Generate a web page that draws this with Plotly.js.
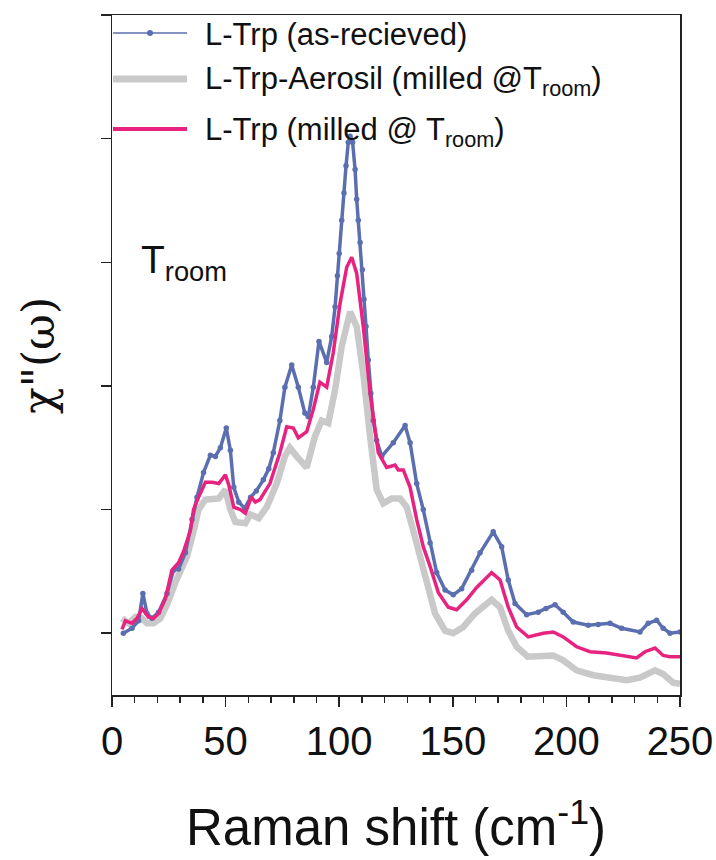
<!DOCTYPE html>
<html>
<head>
<meta charset="utf-8">
<script src="https://cdn.plot.ly/plotly-3.0.1.min.js"></script>
<style>html,body{margin:0;padding:0;background:#fff;}#chart{width:716px;height:860px;}</style>
</head>
<body>
<div id="chart"></div>
<script>
// L-Trp (as-recieved)
const asX = [5.0,8.8,11.7,13.6,15.4,17.6,20.5,24.2,27.1,29.3,32.3,35.2,37.4,40.3,43.3,45.5,47.7,50.3,52.1,53.6,55.8,58.4,61.0,63.5,66.6,69.0,71.0,73.9,76.1,79.1,82.0,84.9,86.4,88.6,91.1,94.5,96.7,98.2,99.2,100.0,101.1,102.1,103.0,104.0,104.8,105.9,107.0,107.7,108.4,109.2,110.2,110.9,111.8,112.8,113.9,115.0,116.5,118.7,123.8,129.0,131.2,134.1,137.0,140.0,142.9,146.6,150.2,153.9,158.3,162.0,167.8,171.5,174.4,177.4,182.5,187.6,191.0,195.0,198.6,203.0,209.6,214.0,219.2,224.3,232.4,236.0,239.7,242.6,245.6,250.0];
const asY = [0.00,0.04,0.10,0.32,0.16,0.12,0.17,0.32,0.51,0.52,0.65,0.92,1.10,1.30,1.44,1.43,1.50,1.66,1.48,1.18,1.06,1.01,1.10,1.15,1.24,1.33,1.46,1.72,1.99,2.17,1.99,1.78,1.75,1.99,2.36,2.19,2.40,2.64,2.89,3.07,3.34,3.56,3.78,3.97,4.02,3.97,3.75,3.51,3.34,3.16,2.94,2.70,2.48,2.21,1.94,1.72,1.56,1.43,1.54,1.68,1.54,1.21,1.00,0.73,0.49,0.35,0.31,0.36,0.51,0.65,0.82,0.70,0.43,0.24,0.15,0.17,0.20,0.23,0.17,0.09,0.065,0.07,0.08,0.04,0.01,0.08,0.105,0.04,0.00,0.01];

// L-Trp-Aerosil (milled @Troom)
const aeX = [4.4,7.3,10.3,13.2,15.4,18.3,21.3,24.2,27.9,30.1,33.0,36.0,38.1,41.1,44.0,47.0,49.9,52.1,54.3,58.7,60.9,64.6,68.1,72.5,76.1,78.3,81.3,85.7,89.3,92.3,95.2,98.2,101.1,104.8,107.7,110.6,113.6,116.5,119.4,123.1,126.8,129.7,132.6,135.6,138.5,142.2,146.6,150.2,154.6,159.8,167.1,170.8,174.4,178.1,183.0,189.8,194.2,198.6,204.5,211.8,219.2,226.5,232.4,239.0,242.6,247.0,250.0];
const aeY = [0.12,0.08,0.13,0.12,0.08,0.08,0.12,0.23,0.41,0.49,0.62,0.83,1.00,1.08,1.09,1.09,1.16,1.00,0.90,0.89,0.96,0.93,1.02,1.21,1.43,1.50,1.43,1.34,1.59,1.72,1.70,1.97,2.32,2.60,2.48,2.10,1.59,1.16,1.05,1.09,1.09,1.02,0.83,0.62,0.37,0.16,0.02,0.00,0.05,0.16,0.27,0.21,0.02,-0.11,-0.19,-0.19,-0.18,-0.22,-0.30,-0.34,-0.36,-0.38,-0.36,-0.30,-0.33,-0.40,-0.41];

// L-Trp (milled @ Troom)
const miX = [4.4,5.9,8.8,11.0,13.2,16.1,18.3,20.5,23.5,26.4,29.3,31.5,34.5,35.9,38.1,41.1,44.0,47.0,49.9,51.4,53.6,56.5,58.7,61.3,63.1,65.1,69.5,73.9,76.9,79.8,82.0,85.7,88.6,91.5,94.5,97.4,100.4,103.3,105.5,107.7,110.6,113.6,117.2,120.9,124.6,126.0,128.2,131.2,134.1,137.0,140.0,143.6,148.0,151.7,156.1,160.5,167.1,170.8,174.4,178.1,183.2,189.8,194.2,198.6,204.5,210.4,217.7,225.0,230.9,234.6,239.0,242.6,245.6,250.0];
const miY = [0.03,0.10,0.08,0.12,0.20,0.13,0.12,0.16,0.28,0.51,0.57,0.66,0.83,1.00,1.10,1.22,1.22,1.21,1.28,1.20,1.02,1.00,0.97,1.10,1.06,1.08,1.21,1.46,1.67,1.66,1.58,1.63,1.81,2.03,1.99,2.27,2.67,2.96,3.04,2.91,2.48,1.94,1.46,1.34,1.36,1.32,1.32,1.18,0.92,0.70,0.54,0.33,0.21,0.19,0.27,0.37,0.49,0.43,0.21,0.05,-0.03,0.00,0.01,-0.03,-0.11,-0.15,-0.16,-0.18,-0.20,-0.15,-0.12,-0.18,-0.19,-0.19];

const xTicks = [0,50,100,150,200,250];
const names = ['L-Trp (as-recieved)', 'L-Trp-Aerosil (milled @T<sub>room</sub>)', 'L-Trp (milled @ T<sub>room</sub>)'];

const BLUE = '#5b6fb0', GRAY = '#c9c9c9', PINK = '#e8237f';
const FONT = 'Liberation Sans, Arial, sans-serif';

const traces = [
  {x: aeX, y: aeY, mode: 'lines', line: {color: GRAY, width: 6.5}, name: names[1]},
  {x: asX, y: asY, mode: 'lines+markers', line: {color: BLUE, width: 3.5}, marker: {color: BLUE, size: 5.5}, name: names[0]},
  {x: miX, y: miY, mode: 'lines', line: {color: PINK, width: 3.5}, name: names[2]}
];

// legend drawn manually (paper coords)
const px = v => (v - 112) / 568;
const py = v => (695 - v) / 680;
const legY = [33, 79, 129];
const shapes = [
  {type: 'line', xref: 'paper', yref: 'paper', x0: px(113), x1: px(187), y0: py(legY[0]), y1: py(legY[0]), line: {color: BLUE, width: 1.5}},
  {type: 'circle', xref: 'paper', yref: 'paper', x0: px(147), x1: px(153), y0: py(legY[0]+3), y1: py(legY[0]-3), fillcolor: BLUE, line: {color: BLUE, width: 0}},
  {type: 'line', xref: 'paper', yref: 'paper', x0: px(113), x1: px(187), y0: py(legY[1]), y1: py(legY[1]), line: {color: GRAY, width: 7}},
  {type: 'line', xref: 'paper', yref: 'paper', x0: px(113), x1: px(187), y0: py(legY[2]), y1: py(legY[2]), line: {color: PINK, width: 4}}
];
const annotations = [
  {text: names[0], xref: 'paper', yref: 'paper', x: px(203), y: py(34), xanchor: 'left', yanchor: 'middle', showarrow: false, font: {family: FONT, size: 31, color: '#111'}},
  {text: names[1], xref: 'paper', yref: 'paper', x: px(203), y: py(81), xanchor: 'left', yanchor: 'middle', showarrow: false, font: {family: FONT, size: 31, color: '#111'}},
  {text: names[2], xref: 'paper', yref: 'paper', x: px(203), y: py(132), xanchor: 'left', yanchor: 'middle', showarrow: false, font: {family: FONT, size: 31, color: '#111'}},
  {text: 'T<sub>room</sub>', xref: 'paper', yref: 'paper', x: px(139), y: py(262), xanchor: 'left', yanchor: 'middle', showarrow: false, font: {family: FONT, size: 39, color: '#111'}},
  {text: 'χ"(ω)', xref: 'paper', yref: 'paper', x: px(38), y: py(356), xanchor: 'center', yanchor: 'middle', textangle: -90, showarrow: false, font: {family: 'DejaVu Serif, serif', size: 44, color: '#111'}}
];

const layout = {
  width: 716, height: 860,
  margin: {l: 112, r: 36, t: 15, b: 165},
  paper_bgcolor: '#fff', plot_bgcolor: '#fff',
  showlegend: false,
  font: {family: FONT, color: '#111'},
  xaxis: {
    range: [0, 250], tickmode: 'array', tickvals: xTicks, ticktext: xTicks.map(String),
    ticks: 'outside', ticklen: 10, tickwidth: 1.5, tickcolor: '#222',
    minor: {tick0: 0, dtick: 10, ticks: 'outside', ticklen: 6, tickwidth: 1.5, tickcolor: '#222', showgrid: false},
    showline: true, linecolor: '#222', linewidth: 1.5, mirror: true,
    showgrid: false, zeroline: false,
    tickfont: {family: FONT, size: 40, color: '#111'},
    title: {text: 'Raman shift (cm<sup>-1</sup>)', font: {family: FONT, size: 51, color: '#111'}, standoff: 48}
  },
  yaxis: {
    range: [-0.5, 5], tick0: 0, dtick: 1,
    ticks: 'outside', ticklen: 10, tickwidth: 1.5, tickcolor: '#222',
    showticklabels: false,
    showline: true, linecolor: '#222', linewidth: 1.5, mirror: true,
    showgrid: false, zeroline: false
  },
  shapes: shapes,
  annotations: annotations
};

Plotly.newPlot('chart', traces, layout, {displayModeBar: false, staticPlot: true});
</script>
</body>
</html>
